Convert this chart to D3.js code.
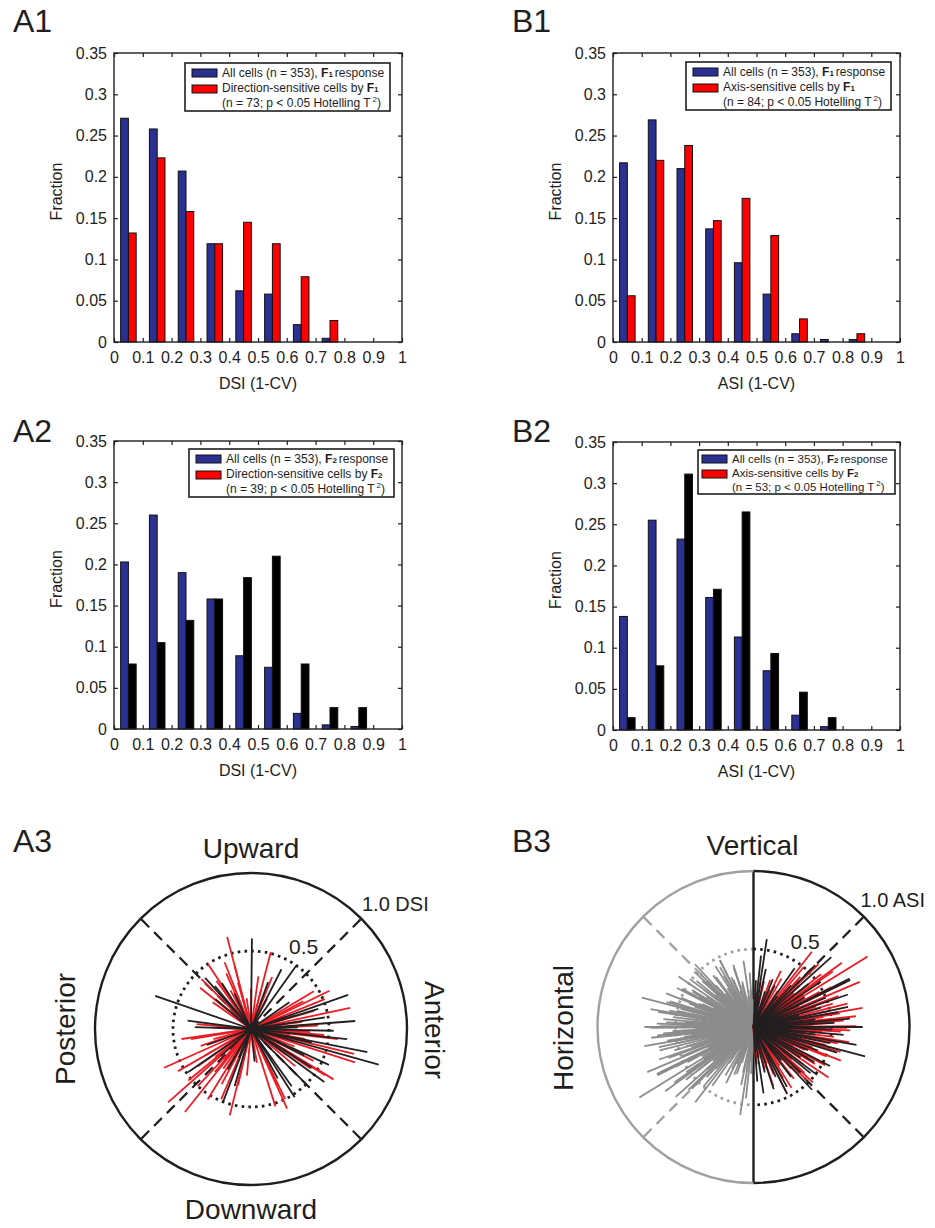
<!DOCTYPE html>
<html>
<head>
<meta charset="utf-8">
<title>DSI / ASI distributions</title>
<script src="https://d3js.org/d3.v7.min.js"></script>
<style>
	body { margin: 0; background: #ffffff; }
	svg text { font-family: "Liberation Sans", Arial, sans-serif; fill: #1e1e1e; }
</style>
</head>
<body>
<div id="figure"></div>
<script>

// ---- histogram data (fraction of cells per 0.1 bin) ----
var binCenters = [0.05, 0.15, 0.25, 0.35, 0.45, 0.55, 0.65, 0.75, 0.85, 0.95];
var xTicks = [0, 0.1, 0.2, 0.3, 0.4, 0.5, 0.6, 0.7, 0.8, 0.9, 1];
var yTicks = [0, 0.05, 0.1, 0.15, 0.2, 0.25, 0.3, 0.35];

var a1All = [0.271, 0.258, 0.207, 0.119, 0.062, 0.058, 0.021, 0.0045, 0, 0];
var a1Sel = [0.132, 0.223, 0.158, 0.119, 0.145, 0.119, 0.079, 0.026, 0, 0];
var b1All = [0.217, 0.269, 0.210, 0.137, 0.096, 0.058, 0.010, 0.003, 0.003, 0];
var b1Sel = [0.056, 0.220, 0.238, 0.147, 0.174, 0.129, 0.028, 0, 0.010, 0];
var a2All = [0.203, 0.260, 0.190, 0.158, 0.089, 0.075, 0.019, 0.005, 0.003, 0];
var a2Sel = [0.079, 0.105, 0.132, 0.158, 0.184, 0.210, 0.079, 0.026, 0.026, 0];
var b2All = [0.138, 0.255, 0.232, 0.161, 0.113, 0.072, 0.018, 0.004, 0, 0];
var b2Sel = [0.015, 0.078, 0.311, 0.171, 0.265, 0.093, 0.046, 0.015, 0, 0];

// ---- polar data: [angle in degrees, index 0..1] ----
// A3: direction vectors (red = F1 sensitive, black = F2 sensitive)
var a3Red = [
	[104.5,0.61],[111.6,0.46],[123.5,0.50],[140.9,0.42],[125.6,0.38],[105.6,0.31],[114,0.39],[134.8,0.45],
	[104.5,0.42],[118,0.28],[130,0.22],[145,0.30],[98,0.20],
	[75.6,0.51],[67.9,0.36],[75.5,0.26],[90,0.26],[82,0.34],[62,0.22],
	[26,0.56],[12,0.65],[22,0.51],[16,0.42],[17,0.29],[3,0.43],[8,0.33],[28,0.38],[20,0.24],[5,0.20],[31,0.47],
	[-4.7,0.47],[-6.6,0.56],[-13.6,0.68],[-17.8,0.70],[-31.4,0.62],[-32,0.56],[-33.5,0.46],[-10.5,0.35],
	[-40,0.37],[-22,0.30],[-8,0.25],[-3,0.38],[-27,0.45],[-36,0.28],
	[-64,0.50],[-64.5,0.40],[-65.6,0.56],[-72.5,0.52],[-103.8,0.57],[-103,0.37],[-113,0.49],[-95,0.30],[-80,0.22],
	[-121.6,0.53],[-128.5,0.68],[-138.5,0.71],[-156,0.61],[-150,0.54],[-140.6,0.52],[-133,0.50],[-130,0.36],
	[-150,0.34],[-131,0.26],[-171.8,0.45],[-170.5,0.39],[-161.5,0.34],[-145,0.42],[-125,0.31],[-118,0.40],
	[-165,0.25],[-142,0.29],
	[174.8,0.35],[178,0.22]
];
var a3Black = [
	[89.4,0.58],[160.9,0.65],[54.4,0.50],[19.3,0.66],[4.4,0.67],[-1.2,0.53],[-11.2,0.76],[-15.6,0.85],
	[172.5,0.41],[-111,0.50],[-83.7,0.21],[-57.4,0.52],[-35.9,0.58],[131.9,0.44],[130,0.36],[122.4,0.35],
	[63,0.43],[16.6,0.45],[9,0.48],[-12.5,0.40],[-26.4,0.38],[-54.6,0.45],[-61.6,0.36],[-106,0.38],
	[-145.5,0.49],[-138,0.26],[-32.4,0.46],[-113,0.20],[70,0.32],[178,0.36],[140,0.30],[-24.7,0.55],
	[2,0.30],[-6,0.62],[-45,0.50],[-120,0.30],[115,0.25],[-160,0.30],[35,0.30]
];

// B3: axis vectors, drawn on the right half (grey copy mirrored through the centre)
var b3Red = [
	[31.7,0.86],[52.2,0.61],[23,0.74],[-0.5,0.60],[10,0.71],[-28,0.52],[-41.9,0.44],[-27.4,0.51],
	[-71.5,0.40],[-63.3,0.48],[70.5,0.32],[81,0.29],[47,0.44],[16.5,0.53],[-3,0.56],[-7,0.52],
	[38,0.55],[42,0.40],[35,0.62],[28,0.48],[26,0.66],[20,0.58],[18,0.42],[14,0.62],
	[12,0.50],[8,0.45],[6,0.66],[4,0.58],[2,0.38],[0.5,0.66],[-2,0.62],[-4,0.44],
	[-9,0.62],[-11,0.55],[-14,0.48],[-16,0.58],[-19,0.40],[-22,0.50],[-24,0.36],[-31,0.46],
	[-34,0.58],[-37,0.40],[-45,0.48],[-48,0.36],[-52,0.42],[-56,0.30],[-60,0.38],[-67,0.33],
	[-75,0.28],[-80,0.20],[-85,0.24],[85,0.22],[77,0.30],[66,0.26],[60,0.36],[56,0.28],
	[50,0.50],[44,0.58],[40,0.34],[33,0.38],[30,0.28],[24,0.32],[22,0.44],[15,0.30],
	[11,0.36],[9,0.56],[7,0.28],[3,0.48],[1,0.30],[-1,0.46],[-6,0.34],[-12,0.40],
	[-18,0.30],[-26,0.28],[-29,0.40],[-40,0.32],[-43,0.52],[-58,0.46],[-70,0.25],[-88,0.18],
	[64,0.40],[36,0.70],[27,0.56],[-21,0.60]
];
var b3Black = [
	[81.4,0.57],[26.7,0.69],[-9.9,0.67],[-14.8,0.74],[25.9,0.69],[41.9,0.67],[12,0.62],[-81.4,0.43],
	[-63.3,0.48],[-39,0.47],[-60.8,0.44],[-37,0.51],
	[87,0.30],[78,0.38],[72,0.24],[63,0.30],[55,0.46],[48,0.36],[45,0.56],[38,0.45],
	[34,0.52],[30,0.38],[22,0.50],[19,0.64],[16,0.45],[10,0.55],[7,0.40],[5,0.62],
	[3,0.52],[0,0.70],[-2,0.50],[-5,0.58],[-7,0.40],[-12,0.50],[-17,0.56],[-20,0.44],
	[-23,0.38],[-27,0.55],[-30,0.45],[-33,0.36],[-44,0.42],[-47,0.55],[-53,0.40],[-66,0.35],
	[-72,0.42],[-76,0.30],[-86,0.35],[84,0.46],[68,0.33],[52,0.25],[14,0.30],[-15,0.32],[-50,0.28]
];
var spokeAngles = [45, 135, -135, -45];


var width = 935;
var height = 1228;
var blue = '#2b3191';
var red = '#ff0000';
var ink = '#1e1e1e';

var svg = d3.select('#figure')
	.append('svg')
	.attr('width', width)
	.attr('height', height);

svg.append('rect')
	.attr('width', width)
	.attr('height', height)
	.attr('fill', '#ffffff');

// panel letters
var letters = [['A1', 13, 32], ['B1', 512, 32], ['A2', 13, 442], ['B2', 512, 442], ['A3', 13, 852], ['B3', 512, 852]];
svg.selectAll('.letter')
	.data(letters)
	.enter()
	.append('text')
	.attr('class', 'letter')
	.attr('x', function(d){ return d[1]; })
	.attr('y', function(d){ return d[2]; })
	.attr('font-size', 32)
	.text(function(d){ return d[0]; });


function drawHist(p){

	var x = d3.scaleLinear().domain([0, 1]).range([p.x0, p.x1]);
	var y = d3.scaleLinear().domain([0, 0.35]).range([p.y1, p.y0]);
	var barW = 0.027;

	var g = svg.append('g');

	// bars: first series left of bin centre, second series right of it
	g.selectAll('.barAll')
		.data(binCenters)
		.enter()
		.append('rect')
		.attr('x', function(d){ return x(d - barW); })
		.attr('width', function(d){ return x(d) - x(d - barW); })
		.attr('y', function(d, i){ return y(p.all[i]); })
		.attr('height', function(d, i){ return y(0) - y(p.all[i]); })
		.attr('fill', blue)
		.attr('stroke', '#111')
		.attr('stroke-width', 1);

	g.selectAll('.barSel')
		.data(binCenters)
		.enter()
		.append('rect')
		.attr('x', function(d){ return x(d); })
		.attr('width', function(d){ return x(d + barW) - x(d); })
		.attr('y', function(d, i){ return y(p.sel[i]); })
		.attr('height', function(d, i){ return y(0) - y(p.sel[i]); })
		.attr('fill', p.selColor)
		.attr('stroke', '#111')
		.attr('stroke-width', 1);

	// axes, ticks pointing inwards on all four sides
	var bottom = g.append('g').attr('transform', 'translate(0,' + p.y1 + ')')
		.call(d3.axisBottom(x).tickValues(xTicks).tickSize(-4).tickPadding(10).tickFormat(function(d){ return String(d); }));
	var top = g.append('g').attr('transform', 'translate(0,' + p.y0 + ')')
		.call(d3.axisTop(x).tickValues(xTicks).tickSize(-4).tickFormat(''));
	var left = g.append('g').attr('transform', 'translate(' + p.x0 + ',0)')
		.call(d3.axisLeft(y).tickValues(yTicks).tickSize(-4).tickPadding(7).tickFormat(function(d){ return String(d); }));
	var right = g.append('g').attr('transform', 'translate(' + p.x1 + ',0)')
		.call(d3.axisRight(y).tickValues(yTicks).tickSize(-4).tickFormat(''));

	[bottom, top, left, right].forEach(function(a){
		a.select('.domain').remove();
		a.selectAll('line').attr('stroke', ink).attr('stroke-width', 1.2);
		a.selectAll('text').attr('font-size', 16).attr('font-family', '"Liberation Sans", Arial, sans-serif').attr('fill', ink);
	});

	g.append('rect')
		.attr('x', p.x0)
		.attr('y', p.y0)
		.attr('width', p.x1 - p.x0)
		.attr('height', p.y1 - p.y0)
		.attr('fill', 'none')
		.attr('stroke', ink)
		.attr('stroke-width', 1.4);

	g.append('text')
		.attr('x', (p.x0 + p.x1) / 2)
		.attr('y', p.y1 + 47)
		.attr('text-anchor', 'middle')
		.attr('font-size', 16)
		.text(p.xLabel);

	g.append('text')
		.attr('transform', 'translate(' + (p.x0 - 52) + ',' + ((p.y0 + p.y1) / 2 - 6) + ') rotate(-90)')
		.attr('text-anchor', 'middle')
		.attr('font-size', 16)
		.text('Fraction');

	// legend
	var L = p.legend;
	var lg = g.append('g').attr('transform', 'translate(' + L.x + ',' + L.y + ')');
	lg.append('rect')
		.attr('width', L.w)
		.attr('height', L.h)
		.attr('fill', '#ffffff')
		.attr('stroke', ink)
		.attr('stroke-width', 1.6);

	lg.append('rect').attr('x', L.tx - 30).attr('y', L.gap - 9).attr('width', 25).attr('height', 8)
		.attr('fill', blue).attr('stroke', '#111').attr('stroke-width', 1);
	lg.append('rect').attr('x', L.tx - 30).attr('y', 2 * L.gap - 8).attr('width', 25).attr('height', 8)
		.attr('fill', red).attr('stroke', '#111').attr('stroke-width', 1);

	var t1 = lg.append('text').attr('x', L.tx).attr('y', L.gap - 1).attr('font-size', L.fs);
	t1.append('tspan').text('All cells (n = 353), ');
	t1.append('tspan').attr('font-weight', 'bold').text('F');
	t1.append('tspan').attr('font-weight', 'bold').attr('font-size', 8).text(p.harm);
	t1.append('tspan').attr('dx', 2).text('response');

	var t2 = lg.append('text').attr('x', L.tx).attr('y', 2 * L.gap - 1).attr('font-size', L.fs);
	t2.append('tspan').text(p.selName + ' cells by ');
	t2.append('tspan').attr('font-weight', 'bold').text('F');
	t2.append('tspan').attr('font-weight', 'bold').attr('font-size', 8).text(p.harm);

	var t3 = lg.append('text').attr('x', L.tx).attr('y', 3 * L.gap - 1).attr('font-size', L.fs);
	t3.append('tspan').text('(n = ' + p.n + '; p < 0.05 Hotelling T');
	t3.append('tspan').attr('font-size', 8).attr('dx', 2).attr('dy', -5).text('2');
	t3.append('tspan').attr('dy', 5).text(')');
}

drawHist({ x0: 114, x1: 402, y0: 53, y1: 342, all: a1All, sel: a1Sel, selColor: red,
	xLabel: 'DSI (1-CV)', harm: '1', selName: 'Direction-sensitive', n: 73,
	legend: { x: 185, y: 63, w: 205, h: 48, gap: 15, tx: 37, fs: 12 } });
drawHist({ x0: 613, x1: 900, y0: 53, y1: 342, all: b1All, sel: b1Sel, selColor: red,
	xLabel: 'ASI (1-CV)', harm: '1', selName: 'Axis-sensitive', n: 84,
	legend: { x: 686, y: 62, w: 205, h: 48, gap: 15, tx: 37, fs: 12 } });
drawHist({ x0: 114, x1: 402, y0: 441, y1: 729, all: a2All, sel: a2Sel, selColor: '#000000',
	xLabel: 'DSI (1-CV)', harm: '2', selName: 'Direction-sensitive', n: 39,
	legend: { x: 189, y: 449, w: 205, h: 48, gap: 15, tx: 37, fs: 12 } });
drawHist({ x0: 613, x1: 900, y0: 442, y1: 730, all: b2All, sel: b2Sel, selColor: '#000000',
	xLabel: 'ASI (1-CV)', harm: '2', selName: 'Axis-sensitive', n: 53,
	legend: { x: 698, y: 450, w: 197, h: 44, gap: 14, tx: 34, fs: 11.5 } });


// ---- polar plots ----
function polarXY(cx, cy, r, angleDeg){
	var a = angleDeg * Math.PI / 180;
	return [cx + r * Math.cos(a), cy - r * Math.sin(a)];
}

function drawRays(g, cx, cy, rScale, data, color){
	g.selectAll(null)
		.data(data)
		.enter()
		.append('line')
		.attr('x1', cx)
		.attr('y1', cy)
		.attr('x2', function(d){ return polarXY(cx, cy, rScale(d[1]), d[0])[0]; })
		.attr('y2', function(d){ return polarXY(cx, cy, rScale(d[1]), d[0])[1]; })
		.attr('stroke', color)
		.attr('stroke-width', 1.8);
}

// A3
(function(){
	var cx = 251, cy = 1029;
	var r = d3.scaleLinear().domain([0, 1]).range([0, 156]);
	var g = svg.append('g');

	g.selectAll('.spoke')
		.data(spokeAngles)
		.enter()
		.append('line')
		.attr('x1', cx).attr('y1', cy)
		.attr('x2', function(d){ return polarXY(cx, cy, r(1), d)[0]; })
		.attr('y2', function(d){ return polarXY(cx, cy, r(1), d)[1]; })
		.attr('stroke', ink).attr('stroke-width', 2.2).attr('stroke-dasharray', '11,7');

	g.append('circle').attr('cx', cx).attr('cy', cy).attr('r', r(0.5))
		.attr('fill', 'none').attr('stroke', ink).attr('stroke-width', 2.8).attr('stroke-dasharray', '2.6,4.2');

	drawRays(g, cx, cy, r, a3Red, '#ec1c24');
	drawRays(g, cx, cy, r, a3Black, '#231f20');

	g.append('circle').attr('cx', cx).attr('cy', cy).attr('r', r(1))
		.attr('fill', 'none').attr('stroke', ink).attr('stroke-width', 2.4);

	g.append('text').attr('x', cx).attr('y', cy - 171).attr('text-anchor', 'middle').attr('font-size', 28).text('Upward');
	g.append('text').attr('x', cx).attr('y', cy + 190).attr('text-anchor', 'middle').attr('font-size', 28).text('Downward');
	g.append('text').attr('transform', 'translate(' + (cx - 176) + ',' + cy + ') rotate(-90)')
		.attr('text-anchor', 'middle').attr('font-size', 28).text('Posterior');
	g.append('text').attr('transform', 'translate(' + (cx + 174) + ',' + (cy + 1) + ') rotate(90)')
		.attr('text-anchor', 'middle').attr('font-size', 28).text('Anterior');
	g.append('text').attr('x', cx + 111).attr('y', cy - 118).attr('font-size', 20).text('1.0 DSI');
	g.append('text').attr('x', cx + 38).attr('y', cy - 75).attr('font-size', 21).text('0.5');
})();

// B3
(function(){
	var cx = 753.5, cy = 1027;
	var r = d3.scaleLinear().domain([0, 1]).range([0, 156]);
	var g = svg.append('g');
	var grey = '#8c8c8c';
	var lightGrey = '#a0a0a0';

	function halfArc(radius, leftSide){
		var p = d3.path();
		p.arc(cx, cy, radius, -Math.PI / 2, Math.PI / 2, leftSide);
		return p.toString();
	}

	g.selectAll('.spoke')
		.data(spokeAngles)
		.enter()
		.append('line')
		.attr('x1', cx).attr('y1', cy)
		.attr('x2', function(d){ return polarXY(cx, cy, r(1), d)[0]; })
		.attr('y2', function(d){ return polarXY(cx, cy, r(1), d)[1]; })
		.attr('stroke', function(d){ return Math.abs(d) > 90 ? lightGrey : ink; })
		.attr('stroke-width', 2.2).attr('stroke-dasharray', '11,7');

	g.append('path').attr('d', halfArc(r(0.5), true))
		.attr('fill', 'none').attr('stroke', lightGrey).attr('stroke-width', 2.8).attr('stroke-dasharray', '2.6,4.2');
	g.append('path').attr('d', halfArc(r(0.5), false))
		.attr('fill', 'none').attr('stroke', ink).attr('stroke-width', 2.8).attr('stroke-dasharray', '2.6,4.2');

	g.append('line').attr('x1', cx).attr('x2', cx).attr('y1', cy - r(1)).attr('y2', cy + r(1))
		.attr('stroke', ink).attr('stroke-width', 2.4);

	// mirrored copy of every axis vector in grey
	var mirrored = b3Red.concat(b3Black).map(function(d){ return [d[0] + 180, d[1]]; });
	drawRays(g, cx, cy, r, mirrored, grey);
	drawRays(g, cx, cy, r, b3Red, '#ec1c24');
	drawRays(g, cx, cy, r, b3Black, '#231f20');

	g.append('path').attr('d', halfArc(r(1), true))
		.attr('fill', 'none').attr('stroke', lightGrey).attr('stroke-width', 2.4);
	g.append('path').attr('d', halfArc(r(1), false))
		.attr('fill', 'none').attr('stroke', ink).attr('stroke-width', 2.4);

	g.append('text').attr('x', cx - 1).attr('y', cy - 172).attr('text-anchor', 'middle').attr('font-size', 28).text('Vertical');
	g.append('text').attr('transform', 'translate(' + (cx - 181) + ',' + (cy + 1) + ') rotate(-90)')
		.attr('text-anchor', 'middle').attr('font-size', 28).text('Horizontal');
	g.append('text').attr('x', cx + 107).attr('y', cy - 120).attr('font-size', 20).text('1.0 ASI');
	g.append('text').attr('x', cx + 37).attr('y', cy - 78).attr('font-size', 21).text('0.5');
})();

</script>
</body>
</html>
